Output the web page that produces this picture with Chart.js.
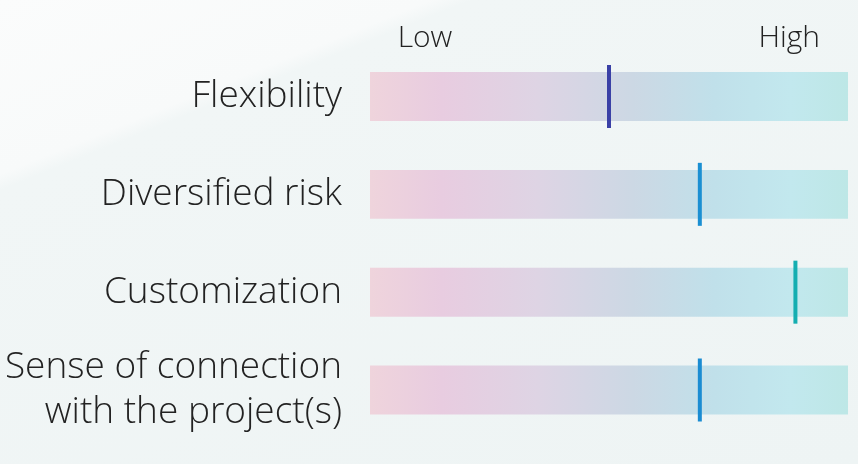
<!DOCTYPE html>
<html>
<head>
<meta charset="utf-8">
<script src="https://cdn.jsdelivr.net/npm/chart.js@4/dist/chart.umd.min.js"></script>
<style>
  html, body { margin: 0; padding: 0; }
  body {
    width: 858px; height: 464px; overflow: hidden;
    background: linear-gradient(158deg, #fbfcfc 0%, #f8fafa 21.5%, #f1f6f6 23.5%, #eef4f4 100%);
  }
  #wrap { position: relative; width: 858px; height: 464px; }
</style>
</head>
<body>
<div id="wrap"><canvas id="myChart"></canvas></div>
<script>
const categories = [
  "Flexibility",
  "Diversified risk",
  "Customization",
  ["Sense of connection", "with the project(s)"],
];
const scores = [50, 69, 89, 69];
const scaleTicks = [11.5, 87.7];
const scaleLabels = ["Low", "High"];
const markerColors = ["#3a40a6", "#1a8fd2", "#14aeb1", "#1a8cd2"];

const makeGradient = (context) => {
  const area = context.chart.chartArea;
  if (!area) return "#d8dde8";
  const g = context.chart.ctx.createLinearGradient(area.left, 0, area.right, 0);
  g.addColorStop(0, "#efd4dc");
  g.addColorStop(0.15, "#e8cce0");
  g.addColorStop(0.35, "#ded4e4");
  g.addColorStop(0.55, "#ccd8e4");
  g.addColorStop(0.72, "#c0e0ea");
  g.addColorStop(0.88, "#c2e8ee");
  g.addColorStop(1, "#bde7e6");
  return g;
};

const drawGraph = () => {
  const ctx = document.getElementById("myChart").getContext("2d");
  new Chart(ctx, {
    type: "bar",
    data: {
      labels: categories,
      datasets: [
        {
          label: "range",
          data: categories.map(() => 100),
          backgroundColor: makeGradient,
          barPercentage: 0.5,
          categoryPercentage: 1,
          clip: false,
          order: 2,
        },
        {
          type: "line",
          label: "score",
          data: scores,
          showLine: false,
          clip: false,
          pointStyle: "line",
          pointRotation: 90,
          pointRadius: 31.5,
          pointHoverRadius: 31.5,
          pointBorderWidth: 4,
          pointBorderColor: markerColors,
          pointBackgroundColor: markerColors,
          order: 1,
        },
      ],
    },
    options: {
      indexAxis: "y",
      responsive: true,
      maintainAspectRatio: false,
      animation: false,
      layout: { autoPadding: false, padding: { top: 0, right: 10, bottom: 74, left: 0 } },
      plugins: { legend: { display: false }, tooltip: { enabled: false } },
      scales: {
        x: {
          position: "top",
          min: 0,
          max: 100,
          grid: { display: false, drawTicks: false },
          border: { display: false },
          afterBuildTicks: (axis) => {
            axis.ticks = scaleTicks.map((v) => ({ value: v }));
          },
          afterFit: (axis) => {
            axis.height = 96.5;
            axis.paddingLeft = 0;
            axis.paddingRight = 0;
          },
          ticks: {
            padding: 40.5,
            color: "#222",
            font: { family: "'Open Sans', sans-serif", size: 30, weight: 300, lineHeight: 1.2 },
            callback: (v, i) => scaleLabels[i],
          },
        },
        y: {
          offset: false,
          grid: { display: false, drawTicks: false },
          border: { display: false },
          afterFit: (axis) => {
            axis.width = 370;
            axis.paddingTop = 0;
            axis.paddingBottom = 0;
          },
          ticks: {
            padding: 28,
            color: "#222",
            font: { family: "'Open Sans', sans-serif", size: 37, weight: 300, lineHeight: 1.22 },
          },
        },
      },
    },
  });
};

drawGraph();
</script>
</body>
</html>
